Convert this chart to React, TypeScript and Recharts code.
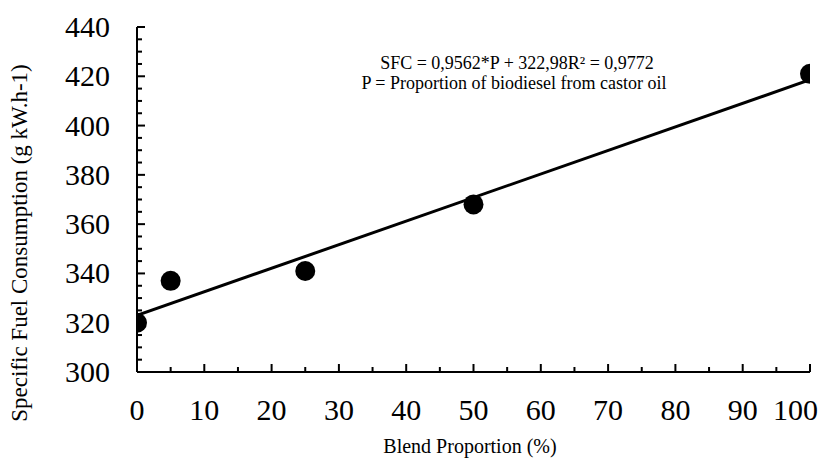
import React from "react";
import { ComposedChart, Scatter, XAxis, YAxis } from "recharts";

const blendProportion = [0, 5, 25, 50, 100];
const sfcValues = [320, 337, 341, 368, 421];
const trendX = [0, 100];
const trendY = [322.98, 418.6];
const xTicks = [0, 5, 10, 15, 20, 25, 30, 35, 40, 45, 50, 55, 60, 65, 70, 75, 80, 85, 90, 95, 100];
const yTicks = [300, 305, 310, 315, 320, 325, 330, 335, 340, 345, 350, 355, 360, 365, 370, 375, 380, 385, 390, 395, 400, 405, 410, 415, 420, 425, 430, 435, 440];

const points = blendProportion.map((x, i) => ({ x, y: sfcValues[i] }));
const trend = trendX.map((x, i) => ({ x, y: trendY[i] }));

const FONT = '"Liberation Serif", "DejaVu Serif", serif';
const ts = (size: number) => ({ fontFamily: FONT, fontSize: size, fill: "#000" });

const XTick = (props: any) => {
  const { x, y, payload } = props;
  const v = payload.value as number;
  const major = v % 10 === 0;
  const last = v === xTicks[xTicks.length - 1];
  return (
    <g>
      <line x1={x} x2={x} y1={y} y2={y - (major ? 8 : 5)} stroke="#000" strokeWidth={2} />
      {major && (
        <text
          x={last ? x + 8 : x}
          y={y + 48}
          textAnchor={last ? "end" : "middle"}
          style={ts(30)}
        >
          {v}
        </text>
      )}
    </g>
  );
};

const YTick = (props: any) => {
  const { x, y, payload } = props;
  const v = payload.value as number;
  const major = v % 20 === 0;
  return (
    <g>
      <line x1={x} x2={x + (major ? 8 : 5)} y1={y} y2={y} stroke="#000" strokeWidth={2} />
      {major && (
        <text x={x - 27} y={y + 10} textAnchor="end" style={ts(30)}>
          {v}
        </text>
      )}
    </g>
  );
};

const Dot = (props: any) => <circle cx={props.cx} cy={props.cy} r={10} fill="#000" />;

export default function App() {
  return (
    <ComposedChart
      width={828}
      height={451}
      margin={{ top: 19, right: 26, left: 0, bottom: 0 }}
      style={{ fontFamily: FONT }}
    >
      <XAxis
        type="number"
        dataKey="x"
        domain={[0, 100]}
        ticks={xTicks}
        interval={0}
        tickSize={0}
        tickMargin={0}
        tickLine={false}
        axisLine={{ stroke: "#000", strokeWidth: 2 }}
        tick={<XTick />}
        height={87}
        allowDataOverflow
      />
      <YAxis
        type="number"
        dataKey="y"
        domain={[300, 440]}
        ticks={yTicks}
        interval={0}
        tickSize={0}
        tickMargin={0}
        tickLine={false}
        axisLine={{ stroke: "#000", strokeWidth: 2 }}
        tick={<YTick />}
        width={129}
        allowDataOverflow
      />
      <Scatter
        data={trend}
        line={{ stroke: "#000", strokeWidth: 3 }}
        shape={() => null}
        isAnimationActive={false}
      />
      <Scatter data={points} shape={<Dot />} isAnimationActive={false} />
      <text x={11} y={235} transform="rotate(-90 11 235)" textAnchor="middle" dominantBaseline="central" style={ts(23)}>
        Specific Fuel Consumption (g kW.h-1)
      </text>
      <text x={462} y={445} textAnchor="middle" style={ts(20)}>
        Blend Proportion (%)
      </text>
      <text x={509} y={61} textAnchor="middle" style={ts(18)}>
        SFC = 0,9562*P + 322,98R² = 0,9772
      </text>
      <text x={506} y={81} textAnchor="middle" style={ts(18)}>
        P = Proportion of biodiesel from castor oil
      </text>
    </ComposedChart>
  );
}
